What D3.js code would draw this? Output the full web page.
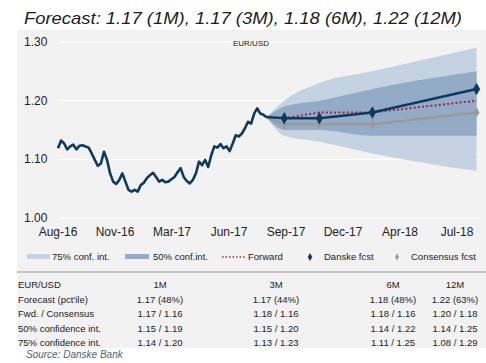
<!DOCTYPE html>
<html>
<head>
<meta charset="utf-8">
<script src="https://d3js.org/d3.v7.min.js"></script>
<style>
  body { margin: 0; background: #fff; }
  svg text { font-family: "Liberation Sans", Arial, sans-serif; fill: #222; }
</style>
</head>
<body>
<svg id="chart" width="486" height="363"></svg>
<script>
// Historical EUR/USD, evenly spaced between these dates
const histStart = "2016-08-20";
const histEnd = "2017-08-17";
const histValues = [
  1.119, 1.132, 1.127, 1.117, 1.122, 1.125, 1.117, 1.123, 1.124, 1.122,
  1.120, 1.110, 1.099, 1.089, 1.093, 1.113, 1.099, 1.076, 1.062, 1.058,
  1.065, 1.076, 1.062, 1.048, 1.045, 1.048, 1.045, 1.056, 1.060, 1.068,
  1.073, 1.077, 1.070, 1.062, 1.065, 1.061, 1.062, 1.066, 1.070, 1.078,
  1.085, 1.070, 1.063, 1.059, 1.065, 1.076, 1.096, 1.090, 1.099, 1.087,
  1.107, 1.122, 1.120, 1.126, 1.119, 1.122, 1.114, 1.127, 1.141, 1.139,
  1.144, 1.153, 1.164, 1.161, 1.178, 1.187, 1.178, 1.176, 1.172
];

// Forecast horizons
const spotDate = "2017-08-17";
const spot = 1.172;
const horizons = ["1M", "3M", "6M", "12M"];
const horizonDates = ["2017-09-17", "2017-11-17", "2018-02-17", "2018-08-17"];
const danske = [1.17, 1.17, 1.18, 1.22];
const danskePct = ["48%", "44%", "48%", "63%"];
const forward = [1.17, 1.18, 1.18, 1.20];
const consensus = [1.16, 1.16, 1.16, 1.18];
const ci50Low = [1.15, 1.15, 1.14, 1.14];
const ci50High = [1.19, 1.20, 1.22, 1.25];
const ci75Low = [1.14, 1.13, 1.11, 1.08];
const ci75High = [1.20, 1.23, 1.25, 1.29];

// Axes
const yTicks = [1.00, 1.10, 1.20, 1.30];
const xTickDates = ["2016-08-20", "2016-11-27", "2017-03-06", "2017-06-13",
                    "2017-09-20", "2017-12-28", "2018-04-06", "2018-07-14"];

const parse = d3.timeParse("%Y-%m-%d");
const fmt2 = d3.format(".2f");

const svg = d3.select("#chart");

// Title
svg.append("text")
    .attr("x", 24)
    .attr("y", 24)
    .attr("textLength", 438)
    .attr("lengthAdjust", "spacingAndGlyphs")
    .style("font-size", "17px")
    .style("font-style", "italic")
    .style("fill", "#1d1d1b")
    .text("Forecast: " + horizons.map((h, i) => fmt2(danske[i]) + " (" + h + ")").join(", "));

// Grey panel
svg.append("rect")
    .attr("x", 17).attr("y", 30)
    .attr("width", 469).attr("height", 318)
    .style("fill", "#f2f2f2");

const x = d3.scaleTime()
    .domain([parse("2016-08-20"), parse("2018-08-16")])
    .range([58, 476]);

const y = d3.scaleLinear()
    .domain([1.00, 1.30])
    .range([218, 42]);

// Gridlines + y labels
svg.append("g").selectAll("line")
    .data(yTicks)
  .enter().append("line")
    .attr("x1", 60).attr("x2", 480)
    .attr("y1", d => y(d)).attr("y2", d => y(d))
    .style("stroke", "#fff")
    .style("stroke-width", 1.2);

svg.append("g").selectAll("text")
    .data(yTicks)
  .enter().append("text")
    .attr("x", 24)
    .attr("y", d => y(d) + 4)
    .style("font-size", "12px")
    .text(d => fmt2(d));

// x labels
const xFormat = d3.timeFormat("%b-%y");
svg.append("g").selectAll("text")
    .data(xTickDates.map(parse))
  .enter().append("text")
    .attr("x", d => x(d))
    .attr("y", 236)
    .attr("text-anchor", "middle")
    .style("font-size", "12px")
    .text(d => xFormat(d));

svg.append("text")
    .attr("x", 251).attr("y", 46)
    .attr("text-anchor", "middle")
    .style("font-size", "8px")
    .text("EUR/USD");

// Forecast points (spot + horizons)
const t0 = parse(spotDate);
const fDates = [t0].concat(horizonDates.map(parse));
const band = (lo, hi) => fDates.map((d, i) => ({
  date: d,
  lo: i === 0 ? spot : lo[i - 1],
  hi: i === 0 ? spot : hi[i - 1]
}));

const area = d3.area()
    .x(d => x(d.date))
    .y0(d => y(d.lo))
    .y1(d => y(d.hi))
    .curve(d3.curveMonotoneX);

svg.append("path")
    .datum(band(ci75Low, ci75High))
    .attr("d", area)
    .style("fill", "#c4d2e1");

svg.append("path")
    .datum(band(ci50Low, ci50High))
    .attr("d", area)
    .style("fill", "#93abc6");

// Historical line
const h0 = parse(histStart), h1 = parse(histEnd);
const hist = histValues.map((v, i) => ({
  date: new Date(+h0 + i * (h1 - h0) / (histValues.length - 1)),
  value: v
}));

const line = d3.line()
    .x(d => x(d.date))
    .y(d => y(d.value));

const series = vals => fDates.map((d, i) => ({ date: d, value: i === 0 ? spot : vals[i - 1] }));

svg.append("path")
    .datum(series(forward).slice(1))
    .attr("d", line)
    .style("fill", "none")
    .style("stroke", "#a3234a")
    .style("stroke-width", 2)
    .style("stroke-dasharray", "2,2.2");

svg.append("path")
    .datum(series(consensus))
    .attr("d", line)
    .style("fill", "none")
    .style("stroke", "#9a9a9a")
    .style("stroke-width", 2.5);

svg.append("g").selectAll("path")
    .data(series(consensus).slice(1))
  .enter().append("path")
    .attr("transform", d => "translate(" + x(d.date) + "," + y(d.value) + ")")
    .attr("d", d3.symbol(d3.symbolDiamond).size(30))
    .style("fill", "#9a9a9a");

svg.append("path")
    .datum(hist)
    .attr("d", line)
    .style("fill", "none")
    .style("stroke", "#0d3b5e")
    .style("stroke-width", 2.6)
    .style("stroke-linejoin", "round");

svg.append("path")
    .datum(series(danske))
    .attr("d", line)
    .style("fill", "none")
    .style("stroke", "#0d3b5e")
    .style("stroke-width", 2.5);

svg.append("g").selectAll("path")
    .data(series(danske).slice(1))
  .enter().append("path")
    .attr("transform", d => "translate(" + x(d.date) + "," + y(d.value) + ")")
    .attr("d", d3.symbol(d3.symbolDiamond).size(45))
    .style("fill", "#0d3b5e");

// Legend
const ly = 257;
const legend = svg.append("g").style("font-size", "9.5px");
legend.append("rect").attr("x", 27).attr("y", ly - 3).attr("width", 23).attr("height", 5).style("fill", "#c4d2e1");
legend.append("text").attr("x", 52).attr("y", ly + 3).text("75% conf. int.");
legend.append("rect").attr("x", 125).attr("y", ly - 3).attr("width", 24).attr("height", 5).style("fill", "#93abc6");
legend.append("text").attr("x", 153).attr("y", ly + 3).text("50% conf.int.");
legend.append("line").attr("x1", 222).attr("x2", 245).attr("y1", ly).attr("y2", ly)
    .style("stroke", "#a3234a").style("stroke-width", 1.5).style("stroke-dasharray", "1.5,2");
legend.append("text").attr("x", 248).attr("y", ly + 3).text("Forward");
legend.append("path").attr("transform", "translate(310," + ly + ")")
    .attr("d", d3.symbol(d3.symbolDiamond).size(18)).style("fill", "#0d3b5e");
legend.append("text").attr("x", 324).attr("y", ly + 3).text("Danske fcst");
legend.append("path").attr("transform", "translate(397," + ly + ")")
    .attr("d", d3.symbol(d3.symbolDiamond).size(14)).style("fill", "#9a9a9a");
legend.append("text").attr("x", 411).attr("y", ly + 3).text("Consensus fcst");

svg.append("line")
    .attr("x1", 17).attr("x2", 486)
    .attr("y1", 272).attr("y2", 272)
    .style("stroke", "#9a9a9a")
    .style("stroke-width", 1);

// Table
const pair = (a, b) => horizons.map((h, i) => fmt2(a[i]) + " / " + fmt2(b[i]));
const rows = [
  ["EUR/USD"].concat(horizons),
  ["Forecast (pct'ile)"].concat(horizons.map((h, i) => fmt2(danske[i]) + " (" + danskePct[i] + ")")),
  ["Fwd. / Consensus"].concat(pair(forward, consensus)),
  ["50% confidence int."].concat(pair(ci50Low, ci50High)),
  ["75% confidence int."].concat(pair(ci75Low, ci75High))
];
const colX = [18, 160, 276, 393, 455];

const row = svg.append("g").style("font-size", "9.5px")
  .selectAll("g")
    .data(rows)
  .enter().append("g")
    .attr("transform", (d, i) => "translate(0," + (288 + i * 14.5) + ")");

row.selectAll("text")
    .data(d => d)
  .enter().append("text")
    .attr("x", (d, i) => colX[i])
    .attr("text-anchor", (d, i) => i === 0 ? "start" : "middle")
    .text(d => d);

svg.append("text")
    .attr("x", 26).attr("y", 358)
    .style("font-size", "10px")
    .style("font-style", "italic")
    .style("fill", "#46647f")
    .text("Source: Danske Bank");
</script>
</body>
</html>
